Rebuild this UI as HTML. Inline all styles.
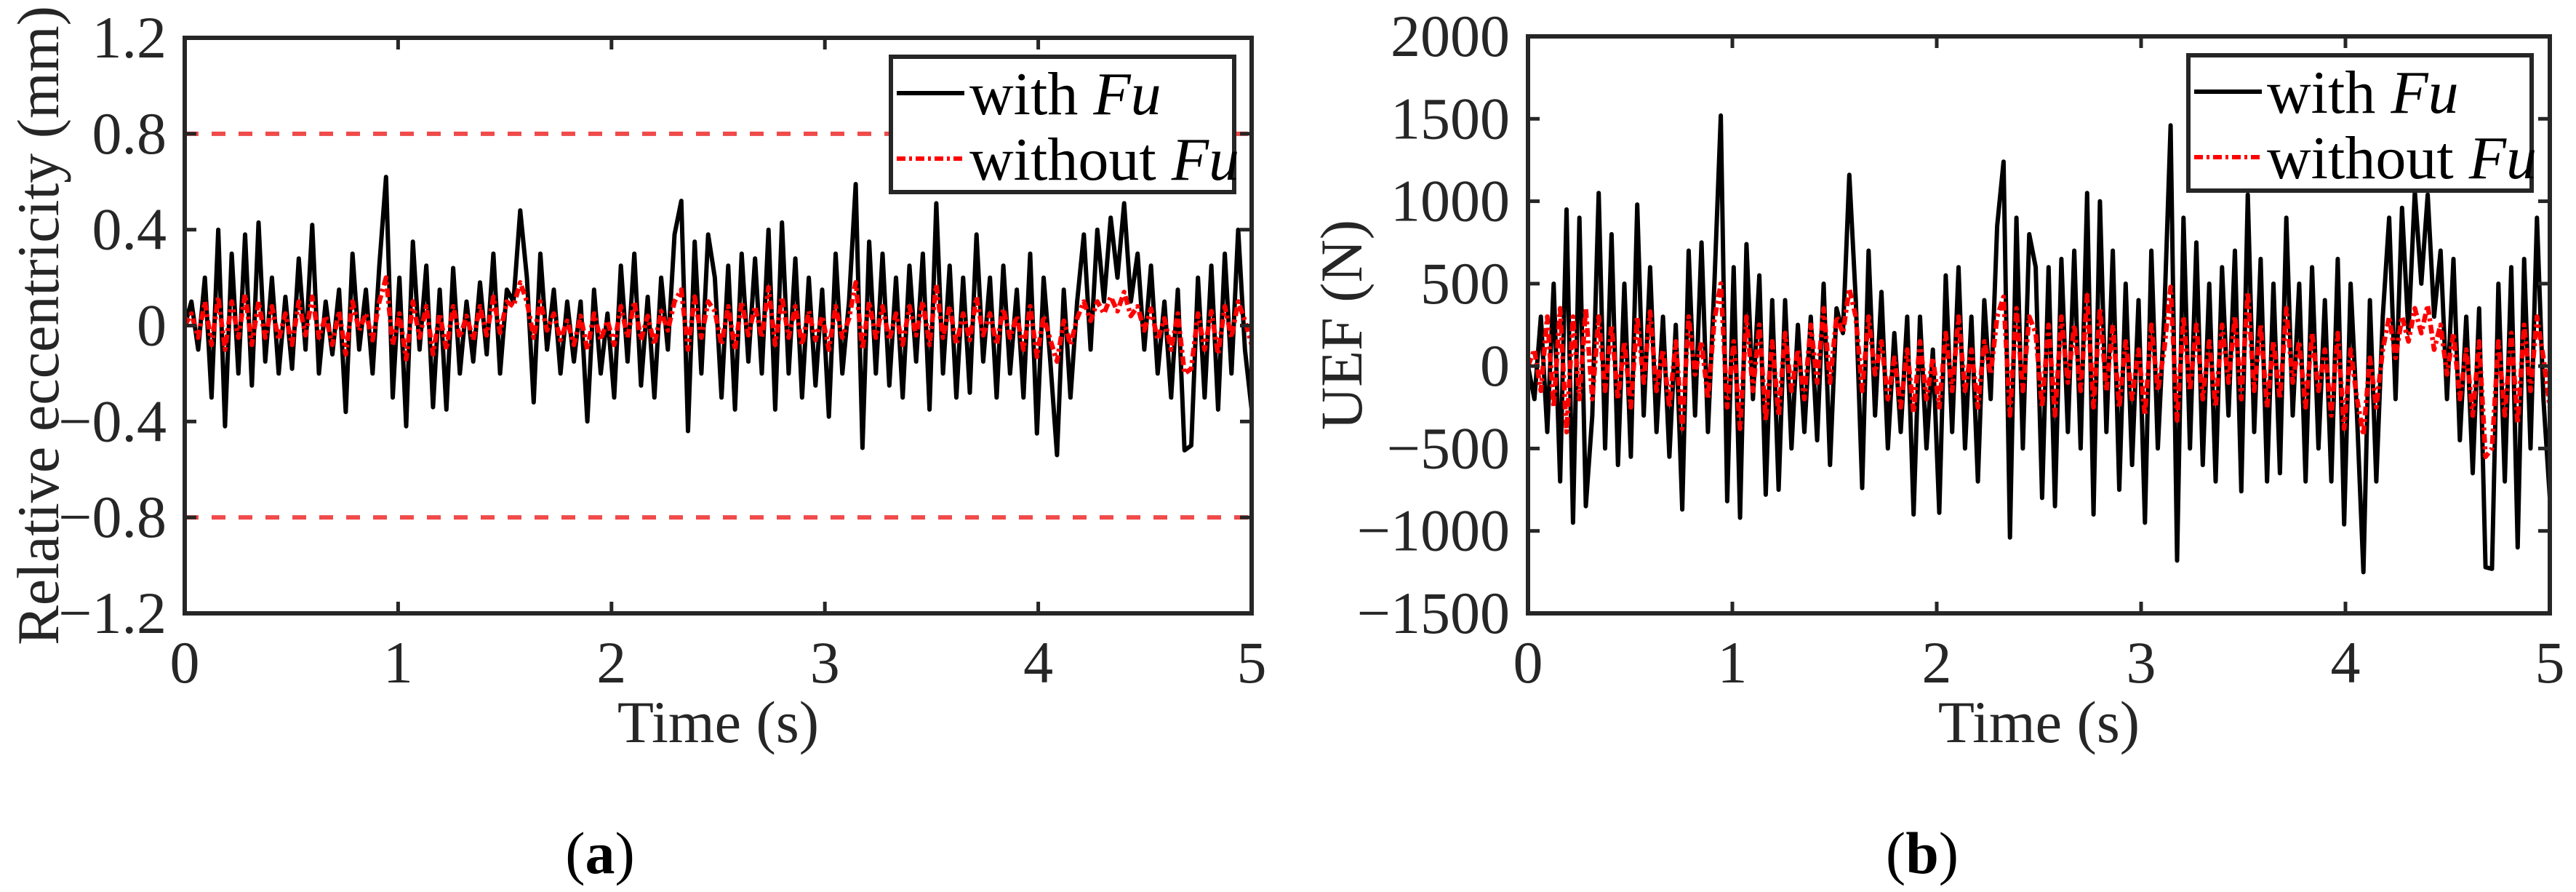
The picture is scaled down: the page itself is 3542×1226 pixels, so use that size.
<!DOCTYPE html>
<html><head><meta charset="utf-8">
<style>
html,body{margin:0;padding:0;background:#fff;}
svg{display:block;}
svg text{font-family:"Liberation Serif","Times New Roman",Times,"DejaVu Serif",serif;}
</style></head>
<body>
<svg id="fig" width="3542" height="1226" viewBox="0 0 3542 1226" xmlns="http://www.w3.org/2000/svg">
<rect width="3542" height="1226" fill="#fff"/>
</svg>
<script>
const xTicks=[0,1,2,3,4,5];
const yTicksA=[-1.2,-0.8,-0.4,0,0.4,0.8,1.2];
const yTickLabelsA=["\u22121.2","\u22120.8","\u22120.4","0","0.4","0.8","1.2"];
const yTicksB=[-1500,-1000,-500,0,500,1000,1500,2000];
const yTickLabelsB=["\u22121500","\u22121000","\u2212500","0","500","1000","1500","2000"];
const limitLines=[0.8,-0.8];
const withFuA=[0,0.1,-0.1,0.2,-0.3,0.4,-0.42,0.3,-0.2,0.38,
-0.25,0.43,-0.15,0.2,-0.2,0.12,-0.18,0.28,-0.1,0.42,
-0.2,0.1,-0.12,0.15,-0.36,0.3,-0.1,0.15,-0.2,0.25,
0.62,-0.3,0.2,-0.42,0.35,-0.1,0.25,-0.34,0.15,-0.35,
0.24,-0.2,0.1,-0.15,0.18,-0.12,0.3,-0.2,0.15,0.1,
0.48,0.2,-0.32,0.3,-0.1,0.15,-0.2,0.1,-0.15,0.1,
-0.4,0.15,-0.2,0.05,-0.3,0.25,-0.15,0.3,-0.25,0.12,
-0.3,0.2,-0.1,0.38,0.52,-0.44,0.35,-0.2,0.38,0.2,
-0.3,0.25,-0.35,0.3,-0.15,0.28,-0.2,0.4,-0.35,0.43,
-0.2,0.28,-0.3,0.2,-0.25,0.15,-0.38,0.3,-0.2,0.1,
0.59,-0.51,0.35,-0.2,0.3,-0.25,0.2,-0.3,0.25,-0.15,
0.3,-0.35,0.51,-0.2,0.25,-0.3,0.2,-0.28,0.38,-0.15,
0.2,-0.3,0.25,-0.2,0.15,-0.3,0.3,-0.45,0.2,-0.15,
-0.54,0.15,-0.3,0.1,0.38,-0.1,0.4,0.1,0.45,0.2,
0.51,0.1,0.3,-0.1,0.25,-0.2,0.1,-0.3,0.15,-0.52,
-0.5,0.2,-0.3,0.25,-0.35,0.3,-0.2,0.4,-0.1,-0.35];
const withoutFuA=[0.0,0.05,-0.05,0.1,-0.08,0.12,-0.1,0.1,-0.05,0.13,
-0.08,0.1,-0.05,0.08,-0.06,0.05,-0.08,0.1,-0.04,0.12,
-0.05,0.04,-0.08,0.06,-0.12,0.1,-0.02,0.05,-0.06,0.1,
0.2,-0.08,0.05,-0.14,0.1,-0.05,0.08,-0.12,0.05,-0.1,
0.08,-0.05,0.04,-0.06,0.08,-0.04,0.12,-0.03,0.1,0.08,
0.18,0.1,-0.05,0.1,-0.02,0.05,-0.06,0.02,-0.08,0.04,
-0.1,0.05,-0.06,0.02,-0.08,0.08,-0.05,0.1,-0.06,0.04,
-0.08,0.06,-0.02,0.1,0.15,-0.1,0.12,-0.05,0.1,0.06,
-0.08,0.08,-0.1,0.1,-0.04,0.08,-0.05,0.16,-0.08,0.12,
-0.05,0.08,-0.08,0.06,-0.06,0.04,-0.1,0.08,-0.05,0.03,
0.18,-0.1,0.1,-0.05,0.08,-0.06,0.05,-0.08,0.08,-0.04,
0.1,-0.08,0.17,-0.05,0.08,-0.08,0.05,-0.06,0.12,-0.04,
0.05,-0.08,0.07,-0.05,0.04,-0.1,0.08,-0.13,0.04,-0.06,
-0.15,0.02,-0.08,0.03,0.1,0.02,0.1,0.05,0.12,0.06,
0.14,0.04,0.08,-0.02,0.07,-0.06,0.03,-0.1,0.05,-0.2,
-0.18,0.05,-0.1,0.06,-0.12,0.08,-0.05,0.1,0.02,-0.08];
const withFuB=[0,-200,300,-400,500,-700,950,-950,900,-850,
-300,1050,-500,800,-600,500,-550,980,-300,600,
-400,300,-550,250,-870,700,-300,750,-400,500,
1520,-820,600,-920,740,-200,550,-780,400,-750,
400,-500,250,-400,300,-450,500,-600,350,200,
1160,400,-740,700,-300,450,-500,200,-400,300,
-900,300,-500,100,-890,550,-400,600,-500,300,
-700,400,-200,850,1240,-1040,900,-500,800,600,
-800,600,-850,650,-400,700,-500,1050,-900,1000,
-400,700,-750,500,-600,400,-950,700,-500,300,
1460,-1180,900,-500,750,-600,500,-700,600,-300,
700,-760,1040,-400,650,-700,500,-650,900,-300,
500,-700,600,-500,400,-700,650,-960,500,-300,
-1250,400,-700,300,900,-200,960,200,1060,500,
1040,300,700,-200,650,-450,300,-650,350,-1220,
-1230,500,-700,600,-1100,650,-500,900,-200,-800];
const withoutFuB=[0,100,-150,300,-250,350,-400,300,-200,350,
-200,300,-150,250,-200,150,-250,300,-100,330,
-150,100,-250,150,-380,300,-50,150,-200,280,
500,-250,150,-380,300,-150,250,-330,150,-300,
200,-150,100,-200,250,-100,350,-100,300,200,
470,300,-150,300,-50,150,-200,50,-250,100,
-280,150,-200,50,-250,200,-150,300,-150,100,
-250,150,-50,300,420,-300,350,-150,300,200,
-250,250,-300,300,-100,250,-150,430,-250,350,
-150,250,-250,150,-200,100,-300,250,-150,100,
480,-330,300,-150,250,-200,150,-250,250,-100,
300,-200,450,-150,250,-250,150,-200,350,-100,
150,-250,200,-150,100,-300,200,-380,100,-200,
-420,50,-250,100,300,50,300,150,350,200,
370,100,250,-50,200,-200,100,-300,150,-550,
-500,150,-300,200,-350,250,-150,300,50,-250];

const NS="http://www.w3.org/2000/svg";
const FONT='"Liberation Serif", "Times New Roman", Times, "DejaVu Serif", serif';
const svg=document.getElementById('fig');
function mk(tag,attrs,parent){const e=document.createElementNS(NS,tag);for(const k in attrs)e.setAttribute(k,attrs[k]);if(tag==='text'){e.setAttribute('font-family',FONT);e.style.fontFamily=FONT;}(parent||svg).appendChild(e);return e;}

function panel(o){
  const g=mk('g',{});
  
  
  const sx=v=>o.x0+(v-0)/(5-0)*(o.x1-o.x0);
  const sy=v=>o.y1-(v-o.ymin)/(o.ymax-o.ymin)*(o.y1-o.y0);
  (o.limits||[]).forEach(L=>{
    const l=mk('line',{x1:o.x0,x2:o.x1,y1:sy(L),y2:sy(L),stroke:'#f04a4a','stroke-width':6,'stroke-dasharray':'19 18'},g);
    
    
  });
  const tx=i=>i*5/(o.black.length-1);
  let d='';o.black.forEach((v,i)=>{d+=(i?'L':'M')+sx(tx(i)).toFixed(1)+' '+sy(v).toFixed(1);});
  const pb=mk('path',{d:d,fill:'none',stroke:'#000','stroke-width':6,'stroke-linejoin':'round'},g);
  
  
  const tr=i=>i*5/(o.red.length-1);
  let d2='';o.red.forEach((v,i)=>{d2+=(i?'L':'M')+sx(tr(i)).toFixed(1)+' '+sy(v).toFixed(1);});
  const pr=mk('path',{d:d2,fill:'none',stroke:'#ff0000','stroke-width':6.5,'stroke-dasharray':'12 5 4 5','stroke-linejoin':'round'},g);
  
  
  const box=mk('rect',{x:o.x0,y:o.y0,width:o.x1-o.x0,height:o.y1-o.y0,fill:'none',stroke:'#262626','stroke-width':6},g);
  
  
  xTicks.forEach(t=>{
    const X=sx(t);
    mk('line',{x1:X,x2:X,y1:o.y1,y2:o.y1-16,stroke:'#262626','stroke-width':5},g);
    mk('line',{x1:X,x2:X,y1:o.y0,y2:o.y0+16,stroke:'#262626','stroke-width':5},g);
    const tl=mk('text',{x:X,y:o.y1+95,'font-size':82,'text-anchor':'middle',fill:'#262626'},g);
    tl.textContent=String(t);
    
    
  });
  o.yt.forEach((t,i)=>{
    const Y=sy(t);
    mk('line',{x1:o.x0,x2:o.x0+16,y1:Y,y2:Y,stroke:'#262626','stroke-width':5},g);
    mk('line',{x1:o.x1,x2:o.x1-16,y1:Y,y2:Y,stroke:'#262626','stroke-width':5},g);
    const tl=mk('text',{x:o.x0-25,y:Y+27,'font-size':82,'text-anchor':'end',fill:'#262626'},g);
    tl.textContent=o.ytl[i];
    
    
  });
  const xt=mk('text',{x:(o.x0+o.x1)/2,y:1020,'font-size':82,'text-anchor':'middle',fill:'#262626'},g);
  xt.textContent='Time (s)';
  
  
  const yt=mk('text',{x:0,y:0,'font-size':82,'text-anchor':'middle',fill:'#262626',transform:`translate(${o.ylx},${(o.y0+o.y1)/2}) rotate(-90)`},g);
  yt.textContent=o.ylabel;
  
  
  const lg=mk('g',{},g);
  
  
  mk('rect',{x:o.lx,y:o.ly,width:472,height:186,fill:'#fff',stroke:'#262626','stroke-width':6},lg);
  mk('line',{x1:o.lx+8,x2:o.lx+101,y1:o.ly+50,y2:o.ly+50,stroke:'#000','stroke-width':6},lg);
  mk('line',{x1:o.lx+8,x2:o.lx+101,y1:o.ly+140,y2:o.ly+140,stroke:'#ff0000','stroke-width':6,'stroke-dasharray':'12 5 4 5'},lg);
  const e1=mk('text',{x:o.lx+108,y:o.ly+79,'font-size':84,fill:'#000'},lg);
  e1.innerHTML='with <tspan font-style="italic">Fu</tspan>';
  
  
  const e2=mk('text',{x:o.lx+108,y:o.ly+169,'font-size':84,fill:'#000'},lg);
  e2.innerHTML='without <tspan font-style="italic">Fu</tspan>';
  
  
  const cap=mk('text',{x:o.capx,y:1200,'font-size':82,'text-anchor':'middle',fill:'#000'},g);
  cap.innerHTML='(<tspan font-weight="bold">'+o.cap+'</tspan>)';
  
  
}
panel({name:'panel-a-eccentricity',x0:254,x1:1721,y0:52,y1:843,ymin:-1.2,ymax:1.2,yt:yTicksA,ytl:yTickLabelsA,limits:limitLines,
  black:withFuA,red:withoutFuA,ylabel:'Relative eccentricity (mm)',ylx:80,lx:1225,ly:78,capx:825,cap:'a'});
panel({name:'panel-b-uef',x0:2101,x1:3506,y0:50,y1:843,ymin:-1500,ymax:2000,yt:yTicksB,ytl:yTickLabelsB,limits:[],
  black:withFuB,red:withoutFuB,ylabel:'UEF (N)',ylx:1872,lx:3009,ly:76,capx:2643,cap:'b'});
</script>
</body></html>
